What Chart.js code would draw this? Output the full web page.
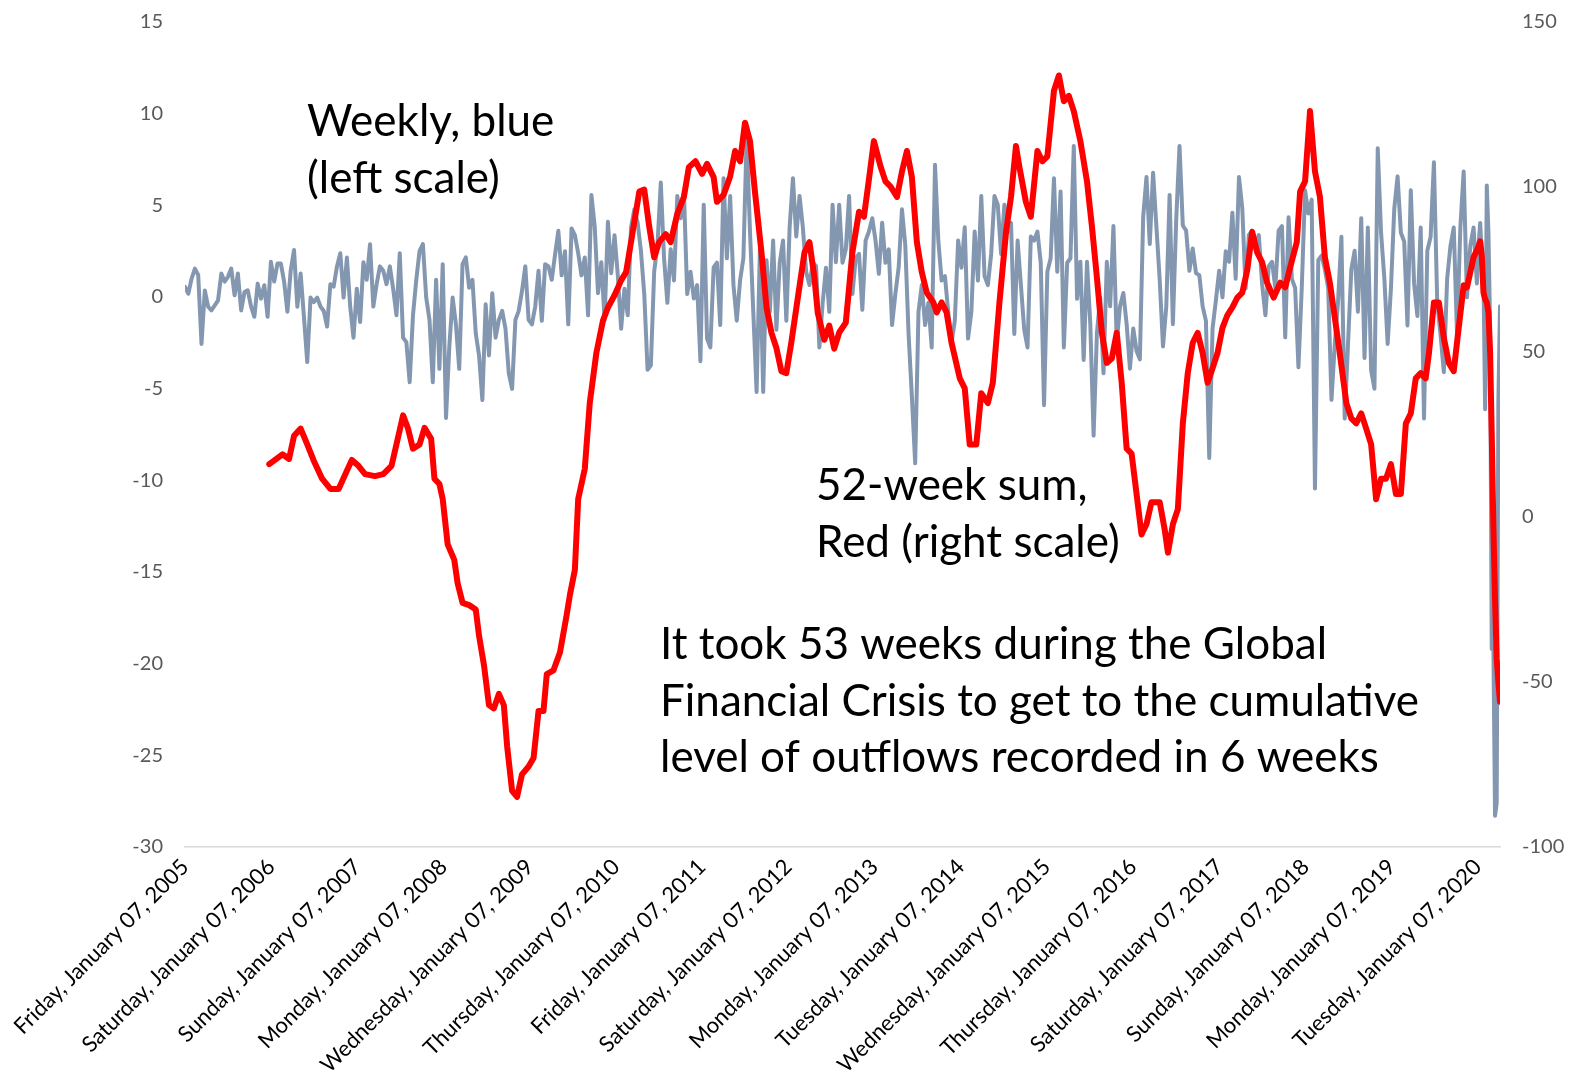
<!DOCTYPE html>
<html>
<head>
<meta charset="utf-8">
<script src="https://cdn.jsdelivr.net/npm/chart.js@4.4.1/dist/chart.umd.min.js"></script>
<style>
  html, body { margin: 0; padding: 0; background: #ffffff; }
  #wrap { width: 1579px; height: 1083px; position: relative; }
</style>
</head>
<body>
<div id="wrap"><canvas id="c" width="1579" height="1083"></canvas></div>
<script>
// ---------- DATA ----------
const startDate = '2005-01-07';           // first weekly observation
const tickYears = [2005,2006,2007,2008,2009,2010,2011,2012,2013,2014,2015,2016,2017,2018,2019,2020];
const tickLabels = [
  'Friday, January 07, 2005','Saturday, January 07, 2006','Sunday, January 07, 2007',
  'Monday, January 07, 2008','Wednesday, January 07, 2009','Thursday, January 07, 2010',
  'Friday, January 07, 2011','Saturday, January 07, 2012','Monday, January 07, 2013',
  'Tuesday, January 07, 2014','Wednesday, January 07, 2015','Thursday, January 07, 2016',
  'Saturday, January 07, 2017','Sunday, January 07, 2018','Monday, January 07, 2019',
  'Tuesday, January 07, 2020'
];
const leftTicks = [-30, -25, -20, -15, -10, -5, 0, 5, 10, 15];
const rightTicks = [-100, -50, 0, 50, 100, 150];

// Weekly flows (left scale), read every second week from week 0 to week 780
const weeklyEveryTwo = [
  0.55,0.18,1.0,1.55,1.2,-2.56,0.36,-0.53,-0.73,-0.46,-0.18,1.28,0.84,1.1,1.55,0.09,1.28,-0.73,0.27,0.36,
  -0.53,-1.08,0.73,-0.09,0.64,-1.08,1.92,0.84,1.83,1.83,0.84,-0.8,1.46,2.56,-0.53,1.28,-1.08,-3.55,
  -0.03,-0.28,-0.03,-0.52,-0.76,-1.61,0.70,0.57,1.67,2.39,-0.03,2.15,-0.52,-2.22,0.45,-1.37,1.9,0.94,2.88,-0.52,
  0.70,1.67,1.43,0.70,1.67,0.45,-1.0,2.39,-2.22,-2.46,
  -4.65,-1.0,0.94,2.52,2.89,-0.03,-1.25,-4.65,0.94,-3.92,1.79,-6.6,-2.71,-0.03,-1.5,-3.92,1.79,2.16,0.5,0.94,
  -1.98,-3.19,-5.62,-0.40,-3.19,0.21,-2.22,-1.25,-0.76,-1.73,-4.16,-5.01,-1.25,-0.76,0.33,1.67,-1.25,-1.49,-0.52,1.43,
  -1.3,1.79,1.67,0.94,2.3,3.61,1.18,2.5,-1.49,3.74,3.37,2.40,1.18,2.16,-1.0,5.56,3.86,0.21,1.9,-1.25,
  4.10,1.3,3.37,1.18,-1.73,0.45,-1.0,
  3.8,4.78,4.05,2.5,0.16,-3.97,-3.73,1.38,2.84,6.24,2.1,-0.32,2.60,0.9,5.51,4.30,5.75,0.16,1.38,-0.08,
  0.65,-3.5,5.03,-2.27,-2.75,1.62,1.87,-1.53,6.48,2.11,5.51,0.65,-1.29,0.9,2.11,8.8,3.57,-0.81,-5.18,2.60,
  -5.18,2.0,-0.81,3.08,-1.78,1.87,3.08,-1.29,3.8,6.48,3.3,5.51,3.8,1.38,0.65,1.87,1.7,-2.75,-0.32,1.6,
  -0.81,5.03,1.9,5.03,1.87,2.60,5.51,
  0.16,2.11,2.35,-0.7,3.08,3.57,4.30,3.08,1.26,4.05,1.87,2.60,-1.53,0.16,1.62,4.78,2.84,-2.02,-5.43,-9.07,
  -0.81,0.65,-1.53,-0.32,-2.75,7.21,3.08,0.9,1.14,-0.81,-2.51,-1.29,3.08,1.6,3.8,-2.27,-0.81,3.57,0.9,5.51,
  1.14,0.65,2.35,5.51,5.03,2.35,5.03,3.57,4.05,-2.02,3.08,0.65,-1.78,-2.75,3.3,3.08,3.57,1.87,-5.9,1.38,
  2.11,6.48,1.38,5.75,-2.75,1.87,2.11,
  8.24,-0.1,1.92,-3.43,1.92,-1.48,-7.56,-1.97,-0.02,-4.16,1.92,-0.51,3.87,-2.46,-0.51,0.22,-1.48,-3.91,-1.72,-2.94,
  -3.4,4.35,6.54,2.89,6.78,3.87,0.95,-2.7,-0.51,5.57,-1.48,4.2,8.24,3.9,3.62,1.43,2.65,1.3,1.19,-0.51,
  -1.3,-8.78,-1.72,-0.2,1.43,-0.02,2.5,1.92,4.6,1.0,6.54,4.84,0.46,3.38,3.62,2.9,3.38,0.7,-1.0,1.68,
  1.92,0.5,3.62,3.87,-2.2,4.35,
  0.99,0.49,-3.83,0.49,5.82,4.55,5.31,-10.44,2.01,2.26,1.50,0.49,-5.61,-2.56,-0.2,3.28,-6.63,-2.56,1.50,2.52,
  -0.8,4.30,-3.33,3.79,-4.0,-5.0,8.11,3.53,1.0,-2.56,0.5,4.81,6.58,3.5,3.03,-1.55,5.82,0.74,-1.04,3.79,
  -6.63,2.52,3.28,7.35,-0.28,-2.05,-4.1,0.99,2.77,3.79,-2.05,3.79,6.84,-0.02,2.77,3.79
];
// Weekly flows for the final weeks (week 782 to week 796)
const finalWeekStart = 782;
const weeklyFinal = [0.74,2.77,4.04,2.26,0.99,-6.12,6.08,3.53,-1.55,-19.2,-19.0,-28.3,-27.6,-5.8,-0.5];

// 52-week sum (right scale): week number and value
const sumWeeks = [
  51,59,63,66,70,74,78,83,88,93,98,101,105,109,115,120,125,128,132,135,138,142,145,149,151,154,156,159,163,165,
  168,172,176,178,181,184,187,190,193,195,198,201,204,208,211,214,217,219,223,227,231,233,236,238,242,245,249,253,256,260,
  264,267,271,275,278,281,284,287,291,294,298,302,305,309,313,316,320,322,326,330,333,336,339,342,345,349,352,355,358,361,
  364,367,371,375,378,381,383,387,390,393,396,400,404,408,411,414,417,421,424,427,431,434,437,440,443,446,449,453,455,458,
  461,464,469,472,475,479,482,486,489,493,497,500,503,505,509,512,516,519,522,526,529,532,535,538,542,546,549,552,555,558,
  561,564,567,570,573,576,579,582,585,590,593,595,598,601,604,607,610,613,616,619,622,625,628,631,634,637,640,643,646,649,
  652,655,659,663,666,669,673,675,678,681,684,687,690,693,696,699,703,706,709,712,715,718,721,724,727,730,733,736,739,742,
  745,748,751,753,756,759,762,765,768,771,774,776,780,783,784,785,786,787,788,789,790,791,792,793,794,795,796
];
const sumValues = [
  16,19,17.6,24.6,26.8,22,17,11.6,8.5,8.5,14,17.3,15.5,13,12.4,13,15.5,22,30.8,26.8,20.7,22,27,23.7,11.6,10,5.4,-8.3,-13,-20,
  -26,-26.7,-28,-36,-45,-57,-58,-53.6,-57,-69.5,-83,-84.8,-78,-75.6,-73,-58.8,-58.8,-47.6,-46.5,-41,-29.8,-23.6,-16,5.4,14.6,34.5,49.7,59.5,63.5,67.2,
  71.7,74.2,86.4,98.6,99.2,88,78.7,83.3,85.7,83.3,91.9,97,106,107.8,104,107,103,95.5,97.6,103.2,110.9,107.8,119.5,113.9,98.6,80,63.5,55.8,51.2,44.2,
  43.6,52.8,66.6,80.2,83.3,72.6,61.9,53.7,58,51,55.9,58.9,80.2,92.5,91,102.3,113.9,106.3,101.7,100.2,97,104.7,110.9,103,83.3,74.2,68,65,62,65,
  62,52.8,42,39,22,22,37.5,34.5,40.7,65,86.4,97,112.4,106.3,95.5,91,110.9,107.8,109.3,129.2,133.8,126,127.6,123,113.9,101.7,88,72.6,55.8,46.7,
  48,55.8,40.7,20.7,19.2,7,-5.3,-2.2,4.5,4.5,-3.7,-10.8,-2.2,2.4,28.3,43.6,52.8,55.8,49.7,40.7,45.1,49.7,57.3,61.2,63.5,66.5,68,74.8,86.4,80.2,
  77.2,71,66.5,71,69.6,75.7,83.3,98.6,101.7,123,104.7,97,78.7,71,60.4,49.7,34.5,29.9,28.4,31.4,26.8,22,5.4,11.6,11.6,16,7,7,28.3,31.4,
  42,43.6,42,49.7,65,65,54.3,46.7,44.2,57.3,70.2,69.6,78.7,82,83.5,79,68,66,65,62,50,25,-3,-25,-43,-50,-56
];

const notes = [
  { lines: ['Weekly, blue', '(left scale)'], x: 307, y: 136 },
  { lines: ['52-week sum,', 'Red (right scale)'], x: 816, y: 500 },
  { lines: ['It took 53 weeks during the Global', 'Financial Crisis to get to the cumulative', 'level of outflows recorded in 6 weeks'], x: 660, y: 659 }
];

// ---------- BUILD ----------
const DAY = 86400000;
const t0 = Date.parse(startDate + 'T00:00:00Z');
const tickWeeks = tickYears.map(y => (Date.UTC(y, 0, 7) - t0) / DAY / 7);
const lastWeek = finalWeekStart + weeklyFinal.length - 1;

const bluePoints = weeklyEveryTwo.map((v, i) => ({ x: i * 2, y: v }))
  .concat(weeklyFinal.map((v, j) => ({ x: finalWeekStart + j, y: v })));
const redPoints = sumWeeks.map((w, i) => ({ x: w, y: sumValues[i] }));

const notesPlugin = {
  id: 'notes',
  afterDraw(chart) {
    const ctx = chart.ctx;
    ctx.save();
    ctx.fillStyle = '#000000';
    ctx.font = '44px Lato';
    ctx.textAlign = 'left';
    ctx.textBaseline = 'alphabetic';
    notes.forEach(n => n.lines.forEach((s, i) => ctx.fillText(s, n.x, n.y + i * 56.5)));
    ctx.restore();
  }
};

const tickFont = { family: 'Lato', size: 20 };
const fitVertical = w => s => { s.width = w; s.paddingTop = 0; s.paddingBottom = 0; };

new Chart(document.getElementById('c'), {
  type: 'line',
  data: {
    datasets: [
      {
        label: '52-week sum',
        data: redPoints,
        yAxisID: 'yR',
        borderColor: '#FF0000',
        borderWidth: 6,
        pointRadius: 0,
        tension: 0,
        borderJoinStyle: 'round',
        borderCapStyle: 'round',
        order: 1
      },
      {
        label: 'Weekly',
        data: bluePoints,
        yAxisID: 'yL',
        borderColor: '#8497B0',
        borderWidth: 4,
        pointRadius: 0,
        tension: 0,
        borderJoinStyle: 'round',
        borderCapStyle: 'round',
        order: 2
      }
    ]
  },
  options: {
    responsive: false,
    animation: false,
    devicePixelRatio: 1,
    layout: { padding: { top: 22, left: 0, right: 0, bottom: 0 } },
    plugins: { legend: { display: false }, tooltip: { enabled: false } },
    scales: {
      x: {
        type: 'linear',
        min: 0,
        max: lastWeek,
        grid: { display: false, drawTicks: false },
        border: { display: true, color: '#d9d9d9', width: 1.5 },
        afterBuildTicks: s => { s.ticks = tickWeeks.map(v => ({ value: v })); },
        afterFit: s => { s.height = 236; },
        ticks: {
          autoSkip: false, minRotation: 45, maxRotation: 45, padding: 7,
          color: '#000000', font: { family: 'Lato', size: 22 },
          callback: (v, i) => tickLabels[i]
        }
      },
      yL: {
        position: 'left',
        min: -30, max: 15,
        afterBuildTicks: s => { s.ticks = leftTicks.map(v => ({ value: v })); },
        afterFit: fitVertical(185),
        grid: { display: false, drawTicks: false },
        border: { display: false },
        ticks: { padding: 22, color: '#595959', font: tickFont }
      },
      yR: {
        position: 'right',
        min: -100, max: 150,
        afterBuildTicks: s => { s.ticks = rightTicks.map(v => ({ value: v })); },
        afterFit: fitVertical(79),
        grid: { display: false, drawTicks: false },
        border: { display: false },
        ticks: { padding: 22, color: '#595959', font: tickFont }
      }
    }
  },
  plugins: [notesPlugin]
});
</script>
</body>
</html>
